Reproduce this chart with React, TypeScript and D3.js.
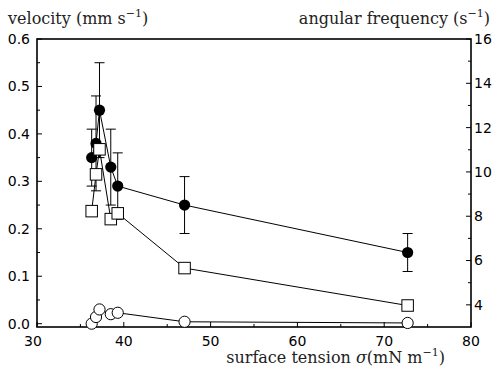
import React from "react";
import * as d3 from "d3";

const xTicks = [30, 40, 50, 60, 70, 80];
const xMinor = [35, 45, 55, 65, 75];
const leftTicks = [0, 0.1, 0.2, 0.3, 0.4, 0.5, 0.6];
const leftMinor = [0.05, 0.15, 0.25, 0.35, 0.45, 0.55];
const rightTicks = [4, 6, 8, 10, 12, 14, 16];
const rightMinor = [5, 7, 9, 11, 13, 15];

const tension = [36.3, 36.8, 37.2, 38.5, 39.3, 47, 72.7];
const velocity = [0.35, 0.38, 0.45, 0.33, 0.29, 0.25, 0.15];
const velLow = [0.29, 0.28, 0.35, 0.25, 0.22, 0.19, 0.11];
const velHigh = [0.41, 0.48, 0.55, 0.41, 0.36, 0.31, 0.19];
const angFreq = [8.23, 9.89, 11.02, 7.87, 8.13, 5.66, 3.97];
const openVals = [0.0, 0.014, 0.03, 0.02, 0.023, 0.004, 0.0015];

const W = 498;
const H = 369;
const L = 37, R = 471, T = 39, B = 327;

export default function App() {
  const x = d3.scaleLinear().domain([30, 80]).range([L, R]);
  const yl = d3.scaleLinear().domain([-0.007, 0.6]).range([B, T]);
  const yr = d3.scaleLinear().domain([3, 16]).range([B, T]);

  const velPts = tension.map((t, i) => [x(t), yl(velocity[i])] as [number, number]);
  const angPts = tension.map((t, i) => [x(t), yr(angFreq[i])] as [number, number]);
  const openPts = tension.map((t, i) => [x(t), yl(openVals[i])] as [number, number]);
  const line = d3.line();

  const tickFont = "DejaVu Sans, sans-serif";
  const titleFont = "DejaVu Serif, serif";
  const sq = 11.5;

  return (
    <svg width={W} height={H} style={{ position: "absolute", left: 0, top: 0, background: "#fff" }}>
      <rect x={0} y={0} width={W} height={H} fill="#fff" />
      {/* ticks */}
      {leftTicks.map((v) => (
        <g key={"l" + v}>
          <line x1={L} x2={L + 5} y1={yl(v)} y2={yl(v)} stroke="#000" strokeWidth={1} />
          <text x={30} y={yl(v)} dy="0.35em" textAnchor="end" fontFamily={tickFont} fontSize={14}>
            {v.toFixed(1)}
          </text>
        </g>
      ))}
      {leftMinor.map((v) => (
        <line key={"lm" + v} x1={L} x2={L + 3} y1={yl(v)} y2={yl(v)} stroke="#000" strokeWidth={1} />
      ))}
      {rightTicks.map((v) => (
        <g key={"r" + v}>
          <line x1={R} x2={R - 5} y1={yr(v)} y2={yr(v)} stroke="#000" strokeWidth={1} />
          <text x={474} y={yr(v)} dy="0.35em" textAnchor="start" fontFamily={tickFont} fontSize={14}>
            {v}
          </text>
        </g>
      ))}
      {rightMinor.map((v) => (
        <line key={"rm" + v} x1={R} x2={R - 3} y1={yr(v)} y2={yr(v)} stroke="#000" strokeWidth={1} />
      ))}
      {xTicks.map((v, i) => (
        <g key={"x" + v}>
          <line x1={x(v)} x2={x(v)} y1={B} y2={B - 5} stroke="#000" strokeWidth={1} />
          <text x={x(v) - (i === 0 ? 4 : 0)} y={346} textAnchor="middle" fontFamily={tickFont} fontSize={14}>
            {v}
          </text>
        </g>
      ))}
      {xMinor.map((v) => (
        <line key={"xm" + v} x1={x(v)} x2={x(v)} y1={B} y2={B - 3} stroke="#000" strokeWidth={1} />
      ))}
      {/* frame */}
      <rect x={L} y={T} width={R - L} height={B - T} fill="none" stroke="#000" strokeWidth={1.6} />

      {/* velocity series */}
      <path d={line(velPts) || ""} fill="none" stroke="#000" strokeWidth={1} />
      {tension.map((t, i) => (
        <g key={"e" + i}>
          <line x1={x(t)} x2={x(t)} y1={yl(velLow[i])} y2={yl(velHigh[i])} stroke="#000" strokeWidth={1} />
          <line x1={x(t) - 5} x2={x(t) + 5} y1={yl(velLow[i])} y2={yl(velLow[i])} stroke="#000" strokeWidth={1} />
          <line x1={x(t) - 5} x2={x(t) + 5} y1={yl(velHigh[i])} y2={yl(velHigh[i])} stroke="#000" strokeWidth={1} />
        </g>
      ))}
      {velPts.map((p, i) => (
        <circle key={"v" + i} cx={p[0]} cy={p[1]} r={5.6} fill="#000" />
      ))}

      {/* angular frequency series */}
      <path d={line(angPts) || ""} fill="none" stroke="#000" strokeWidth={1} />
      {angPts.map((p, i) => (
        <rect key={"a" + i} x={p[0] - sq / 2} y={p[1] - sq / 2} width={sq} height={sq} fill="#fff" stroke="#000" strokeWidth={1} />
      ))}

      {/* open circles series */}
      <path d={line(openPts) || ""} fill="none" stroke="#000" strokeWidth={1} />
      {openPts.map((p, i) => (
        <circle key={"o" + i} cx={p[0]} cy={p[1]} r={5.6} fill="#fff" stroke="#000" strokeWidth={1} />
      ))}

      {/* titles */}
      <text x={8} y={24} fontFamily={titleFont} fontSize={16} fill="#222">
        velocity (mm s<tspan dy={-7} fontSize={11}>−1</tspan><tspan dy={7}>)</tspan>
      </text>
      <text x={490} y={24} textAnchor="end" fontFamily={titleFont} fontSize={16} fill="#222">
        angular frequency (s<tspan dy={-7} fontSize={11}>−1</tspan><tspan dy={7}>)</tspan>
      </text>
      <text x={445} y={363} textAnchor="end" fontFamily={titleFont} fontSize={16} fill="#222">
        surface tension <tspan fontStyle="italic">σ</tspan>(mN m<tspan dy={-7} fontSize={11}>−1</tspan><tspan dy={7}>)</tspan>
      </text>
    </svg>
  );
}
